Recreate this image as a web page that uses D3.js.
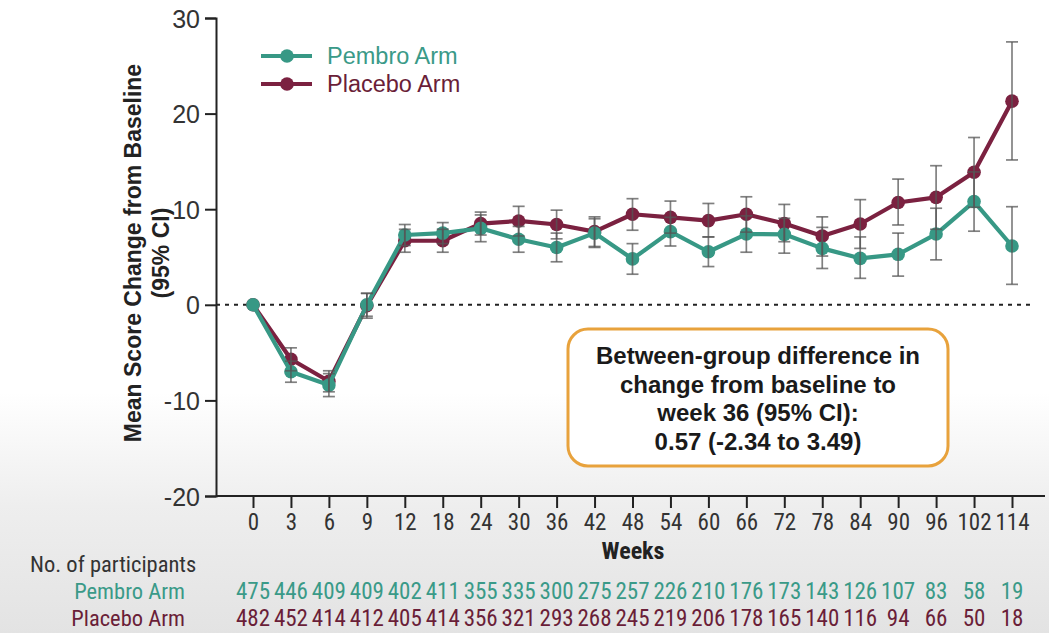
<!DOCTYPE html>
<html>
<head>
<meta charset="utf-8">
<script src="https://cdn.jsdelivr.net/npm/d3@7/dist/d3.min.js"></script>
<style>
  html, body { margin: 0; padding: 0; background: #fff; }
  svg { display: block; }
</style>
</head>
<body>
<svg id="chart" width="1049" height="633"></svg>
<script>
const weeks = ["0","3","6","9","12","18","24","30","36","42","48","54","60","66","72","78","84","90","96","102","114"];
const yTicks = [-20, -10, 0, 10, 20, 30];

const pembroMean = [0, -7.0, -8.4, 0.0, 7.3, 7.5, 8.0, 6.85, 6.0, 7.5, 4.8, 7.65, 5.55, 7.4, 7.37, 5.9, 4.86, 5.28, 7.4, 10.8, 6.15];
const pembroLow  = [0, -8.1, -9.6, -1.2, 6.2, 6.4, 6.6, 5.5, 4.5, 6.0, 3.2, 6.15, 4.0, 5.5, 5.4, 3.8, 2.77, 3.0, 4.7, 7.7, 2.14];
const pembroHigh = [0, -5.9, -7.2, 1.2, 8.4, 8.6, 9.4, 8.2, 7.5, 9.0, 6.4, 9.15, 7.1, 9.3, 9.05, 8.1, 7.1, 7.5, 10.1, 13.9, 10.26];

const placeboMean = [0, -5.7, -8.0, -0.1, 6.7, 6.7, 8.5, 8.77, 8.4, 7.65, 9.47, 9.15, 8.8, 9.47, 8.5, 7.2, 8.45, 10.7, 11.24, 13.86, 21.3];
const placeboLow  = [0, -6.9, -9.1, -1.4, 5.5, 5.5, 7.3, 7.2, 6.9, 6.1, 7.8, 7.5, 7.1, 7.6, 6.6, 5.1, 5.9, 8.35, 7.9, 10.2, 15.15];
const placeboHigh = [0, -4.5, -6.9, 1.2, 7.9, 7.9, 9.7, 10.3, 9.9, 9.2, 11.1, 10.85, 10.6, 11.3, 10.5, 9.2, 11.0, 13.15, 14.55, 17.5, 27.5];

const pembroN  = [475, 446, 409, 409, 402, 411, 355, 335, 300, 275, 257, 226, 210, 176, 173, 143, 126, 107, 83, 58, 19];
const placeboN = [482, 452, 414, 412, 405, 414, 356, 321, 293, 268, 245, 219, 206, 178, 165, 140, 116, 94, 66, 50, 18];

const seriesNames = ["Pembro Arm", "Placebo Arm"];
const boxLines = ["Between-group difference in", "change from baseline to", "week 36 (95% CI):", "0.57 (-2.34 to 3.49)"];

const TEAL = "#379885", WINE = "#7b2140";
const TEAL_TXT = "#3a9a88", WINE_TXT = "#6a1e38";
const NARROW = "'Liberation Sans Narrow', 'Arial Narrow', 'Roboto Condensed', sans-serif";
const SANS = "'Liberation Sans', Arial, Helvetica, sans-serif";

const svg = d3.select("#chart");

// background gradient (lower grey area)
const defs = svg.append("defs");
const grad = defs.append("linearGradient").attr("id", "bg").attr("x1", 0).attr("x2", 0).attr("y1", 0).attr("y2", 1);
grad.append("stop").attr("offset", "0%").attr("stop-color", "#ffffff");
grad.append("stop").attr("offset", "62%").attr("stop-color", "#ffffff");
grad.append("stop").attr("offset", "80%").attr("stop-color", "#eeeeee");
grad.append("stop").attr("offset", "100%").attr("stop-color", "#e3e3e3");
svg.append("rect").attr("x", 0).attr("y", 0).attr("width", 1049).attr("height", 633).attr("fill", "url(#bg)");

const x = d3.scalePoint().domain(weeks).range([253, 1012]);
const y = d3.scaleLinear().domain([-20, 30]).range([496, 18]);
const axisLeftX = 216;
const axisRightX = 1045;

// zero dashed line
svg.append("line")
  .attr("x1", axisLeftX).attr("x2", 1030)
  .attr("y1", y(0)).attr("y2", y(0))
  .attr("stroke", "#222").attr("stroke-width", 2).attr("stroke-dasharray", "4,5");

// y axis
const yAxis = svg.append("g").attr("transform", `translate(${axisLeftX},0)`)
  .call(d3.axisLeft(y).tickValues(yTicks).tickSize(11).tickPadding(5).tickFormat(d => String(d)));
yAxis.select(".domain").attr("stroke", "#222").attr("stroke-width", 2);
yAxis.selectAll(".tick line").attr("stroke", "#222").attr("stroke-width", 2);
yAxis.selectAll(".tick text").attr("fill", "#333").style("font-family", SANS).style("font-size", "25px").attr("dy", "0.36em");

// x axis
const xAxisG = svg.append("g").attr("transform", "translate(0,496)")
  .call(d3.axisBottom(x).tickSize(12).tickPadding(6));
xAxisG.select(".domain").attr("d", `M${axisLeftX},0H${axisRightX}`).attr("stroke", "#222").attr("stroke-width", 2);
xAxisG.selectAll(".tick line").attr("stroke", "#222").attr("stroke-width", 2);
xAxisG.selectAll(".tick text").attr("fill", "#333").style("font-family", NARROW).style("font-size", "23px").attr("dy", "0.71em");

// axis titles
svg.append("text").attr("x", 633).attr("y", 559).attr("text-anchor", "middle")
  .style("font-family", NARROW).style("font-weight", "bold").style("font-size", "24px").attr("fill", "#222").text("Weeks");

const yt = svg.append("text").attr("transform", "translate(141,253) rotate(-90)").attr("text-anchor", "middle")
  .style("font-family", SANS).style("font-weight", "bold").style("font-size", "23px").attr("fill", "#222");
yt.append("tspan").attr("x", 0).attr("y", 0).text("Mean Score Change from Baseline");
yt.append("tspan").attr("x", 0).attr("y", 28).text("(95% CI)");

// series
const series = [
  { name: seriesNames[1], color: WINE, mean: placeboMean, low: placeboLow, high: placeboHigh },
  { name: seriesNames[0], color: TEAL, mean: pembroMean, low: pembroLow, high: pembroHigh }
];

const line = d3.line().x((d, i) => x(weeks[i])).y(d => y(d));

series.forEach(s => {
  svg.append("path").datum(s.mean).attr("d", line)
    .attr("fill", "none").attr("stroke", s.color).attr("stroke-width", 4.2).attr("stroke-linejoin", "round");
  svg.append("g").selectAll("circle").data(s.mean).join("circle")
    .attr("cx", (d, i) => x(weeks[i])).attr("cy", d => y(d)).attr("r", 6.8).attr("fill", s.color);
});

// error bars on top
const cap = 6;
series.forEach(s => {
  const g = svg.append("g").attr("stroke", "#555").attr("stroke-opacity", 0.75).attr("stroke-width", 1.7);
  weeks.forEach((w, i) => {
    if (s.low[i] === s.high[i]) return;
    const cx = x(w);
    g.append("line").attr("x1", cx).attr("x2", cx).attr("y1", y(s.low[i])).attr("y2", y(s.high[i]));
    g.append("line").attr("x1", cx - cap).attr("x2", cx + cap).attr("y1", y(s.low[i])).attr("y2", y(s.low[i]));
    g.append("line").attr("x1", cx - cap).attr("x2", cx + cap).attr("y1", y(s.high[i])).attr("y2", y(s.high[i]));
  });
});

// legend
const legend = [
  { name: seriesNames[0], color: TEAL, txt: TEAL_TXT, y: 56 },
  { name: seriesNames[1], color: WINE, txt: WINE_TXT, y: 84 }
];
legend.forEach(l => {
  svg.append("line").attr("x1", 261).attr("x2", 312).attr("y1", l.y).attr("y2", l.y)
    .attr("stroke", l.color).attr("stroke-width", 4);
  svg.append("circle").attr("cx", 287).attr("cy", l.y).attr("r", 6.8).attr("fill", l.color);
  svg.append("text").attr("x", 327).attr("y", l.y + 8).attr("fill", l.txt)
    .style("font-family", SANS).style("font-size", "23.5px").text(l.name);
});

// annotation box
svg.append("rect").attr("x", 568).attr("y", 329).attr("width", 380).attr("height", 137)
  .attr("rx", 20).attr("ry", 20).attr("fill", "#fff").attr("stroke", "#e8a23c").attr("stroke-width", 3);
boxLines.forEach((t, i) => {
  svg.append("text").attr("x", 758).attr("y", 364 + i * 28.5).attr("text-anchor", "middle")
    .style("font-family", SANS).style("font-weight", "bold").style("font-size", "24px").attr("fill", "#1a1a1a").text(t);
});

// participants table
svg.append("text").attr("x", 30).attr("y", 572).attr("fill", "#333")
  .style("font-family", NARROW).style("font-size", "22.5px").text("No. of participants");
svg.append("text").attr("x", 185).attr("y", 599).attr("text-anchor", "end").attr("fill", TEAL_TXT)
  .style("font-family", NARROW).style("font-size", "22.5px").text(seriesNames[0]);
svg.append("text").attr("x", 185).attr("y", 626).attr("text-anchor", "end").attr("fill", WINE_TXT)
  .style("font-family", NARROW).style("font-size", "22.5px").text(seriesNames[1]);

svg.append("g").selectAll("text").data(pembroN).join("text")
  .attr("x", (d, i) => x(weeks[i])).attr("y", 599).attr("text-anchor", "middle").attr("fill", TEAL_TXT)
  .style("font-family", NARROW).style("font-size", "23px").text(d => d);
svg.append("g").selectAll("text").data(placeboN).join("text")
  .attr("x", (d, i) => x(weeks[i])).attr("y", 626).attr("text-anchor", "middle").attr("fill", WINE_TXT)
  .style("font-family", NARROW).style("font-size", "23px").text(d => d);
</script>
</body>
</html>
